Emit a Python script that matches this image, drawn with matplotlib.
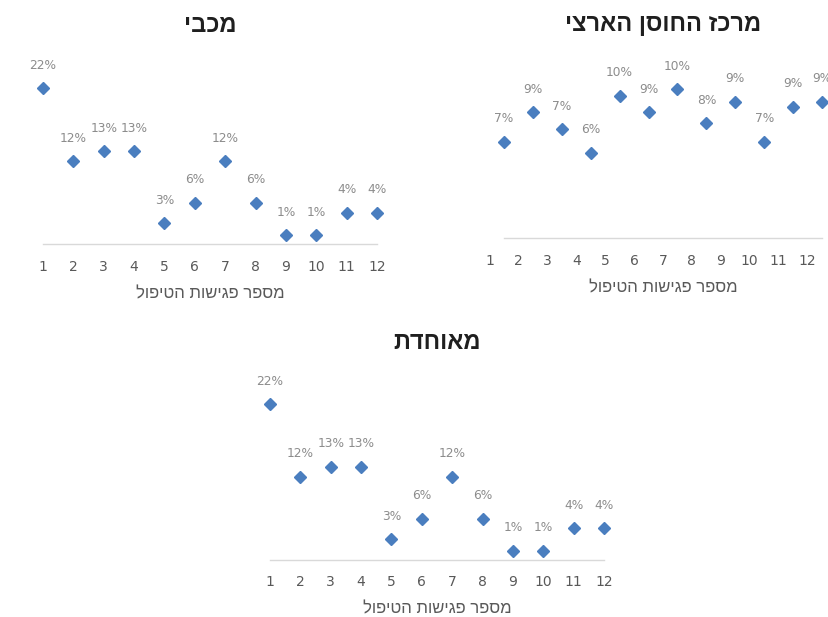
import matplotlib
matplotlib.use("Agg")
import matplotlib.pyplot as plt

# ---- data ----
sessions = [1, 2, 3, 4, 5, 6, 7, 8, 9, 10, 11, 12]
maccabi = [22.0, 11.75, 13.15, 13.15, 2.95, 5.85, 11.75, 5.85, 1.3, 1.3, 4.45, 4.45]
national = [6.62, 8.63, 7.47, 5.86, 9.77, 8.63, 10.2, 7.88, 9.36, 6.62, 9.01, 9.36]
meuhedet = [22.0, 11.75, 13.15, 13.15, 2.95, 5.85, 11.75, 5.85, 1.3, 1.3, 4.45, 4.45]
title_maccabi = "מכבי"
title_national = "מרכז החוסן הארצי"
title_meuhedet = "מאוחדת"
x_title = "מספר פגישות הטיפול"


def vis(s):
    # visual (left-to-right) order for Hebrew text
    return s[::-1]


W, H = 829, 617
DPI = 100
plt.rcParams["font.family"] = ["Liberation Sans", "DejaVu Sans"]
NUM = "DejaVu Sans"

fig = plt.figure(figsize=(W / DPI, H / DPI), dpi=DPI)

MARK = "#4A7EBF"
LBL = "#8C8C8C"
TICK = "#595959"
TITLE = "#1F1F1F"


def make_axes(x0, x1, y_base, y_top):
    return fig.add_axes([x0 / W, 1 - y_base / H, (x1 - x0) / W, (y_base - y_top) / H])


def draw(ax, values, title, xlim, tick_pos, spine_bounds, ymax, title_y_px, axtitle_y_px,
         y_base, y_top, cx=0.5):
    ax.set_xlim(*xlim)
    ax.set_ylim(0, ymax)
    ax.plot(sessions, values, linestyle="none", marker="D", markersize=6.3,
            color=MARK, markeredgecolor=MARK, clip_on=False, zorder=3)
    for x, v in zip(sessions, values):
        ax.annotate(f"{round(v):.0f}%", (x, v), xytext=(0, 16.5), textcoords="offset points",
                    ha="center", va="center", fontsize=8.8, color=LBL, annotation_clip=False,
                    fontfamily=NUM)
    for s in ["top", "left", "right"]:
        ax.spines[s].set_visible(False)
    ax.spines["bottom"].set_color("#D9D9D9")
    ax.spines["bottom"].set_linewidth(1.0)
    ax.spines["bottom"].set_bounds(*spine_bounds)
    ax.set_yticks([])
    ax.set_xticks(tick_pos)
    ax.set_xticklabels([str(s) for s in sessions], fontsize=10, color=TICK, fontfamily=NUM)
    ax.tick_params(axis="x", length=0, pad=11)
    ax.patch.set_alpha(0)
    hpx = y_base - y_top
    ax.text(cx, -(axtitle_y_px - y_base) / hpx, vis(x_title), transform=ax.transAxes,
            ha="center", va="center", fontsize=12, color=TICK)
    ax.text(cx, 1 + (y_top - title_y_px) / hpx, vis(title), transform=ax.transAxes,
            ha="center", va="center", fontsize=17, fontweight="bold", color=TITLE)


# Maccabi (top-left)
yb, yt = 244.3, 244.3 - 25 * 7.09
ax1 = make_axes(43, 377, yb, yt)
draw(ax1, maccabi, title_maccabi, (1, 12), sessions, (1, 12), 25, 25, 294, yb, yt)

# National resilience center (top-right)
yb2 = 238.3
yt2 = yb2 - 12 * 14.6
step = (822 - 504) / 11
x0 = 504 - step / 2
ax2 = make_axes(x0, 822, yb2, yt2)
cx2 = ((504 + 822) / 2 - x0) / (822 - x0)
draw(ax2, national, title_national, (0.5, 12), [s - 0.5 for s in sessions], (1, 12), 12, 25, 288,
     yb2, yt2, cx=cx2)

# Meuhedet (bottom)
yb3, yt3 = 560, 560 - 25 * 7.09
ax3 = make_axes(270, 604, yb3, yt3)
draw(ax3, meuhedet, title_meuhedet, (1, 12), sessions, (1, 12), 25, 343, 609, yb3, yt3)

fig.savefig("out.png", dpi=DPI)
